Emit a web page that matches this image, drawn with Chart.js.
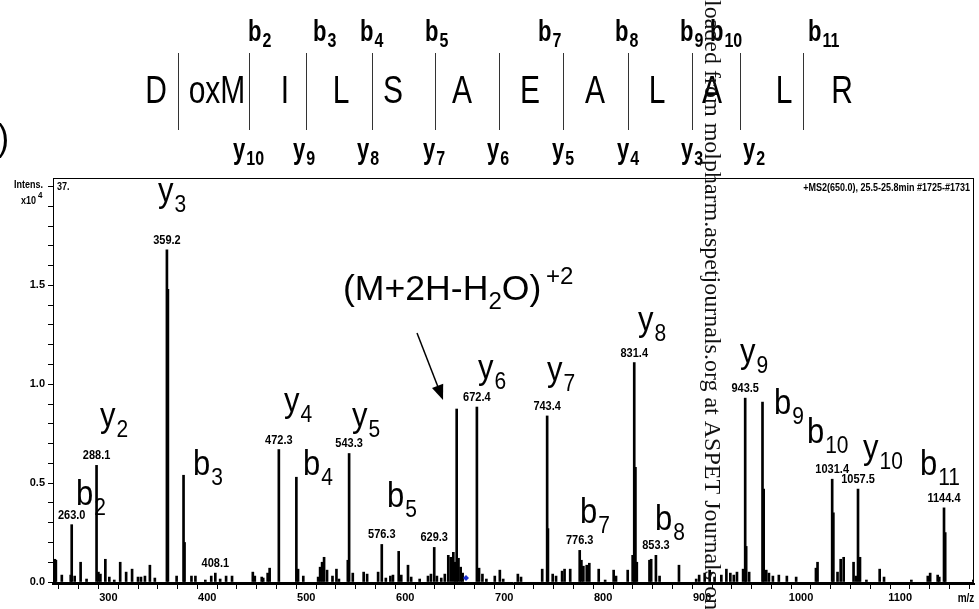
<!DOCTYPE html>
<html>
<head>
<meta charset="utf-8">
<script src="https://cdn.jsdelivr.net/npm/chart.js@4.4.0/dist/chart.umd.min.js"></script>
<style>
    html, body { margin: 0; padding: 0; background: #fff; overflow: hidden; }
    #wrap { position: relative; width: 979px; height: 609px; }
</style>
</head>
<body>
<div id="wrap"><canvas id="spectrum" width="979" height="609"></canvas></div>
<script>
// Peak list: m/z and intensity (x10^4)
const peakMz = [
    245, 246, 247, 253, 262, 263.0, 266, 272, 278, 288.1, 290, 292, 297, 301, 306, 312, 318, 324, 330, 333, 337, 342, 347,
    359.2, 360.2, 369, 376, 377, 384, 388, 398, 404, 408.1, 413, 419, 425, 446, 448, 455, 456.5, 461, 463,
    472.3, 490, 491.7, 497, 512, 514, 516, 518, 521, 526.5, 530.5, 533, 542, 543.3, 547, 558, 561.5, 572.6,
    576.3, 580.4, 585, 587.6, 593.4, 596, 602.8, 606, 614.6, 623, 626, 629.3, 632, 636.4, 640, 643.5, 646, 648.6,
    650.5, 652, 653.8, 656, 658, 672.4, 674.6, 678, 682, 690.5, 695.6, 699, 713.8, 717, 738.4, 743.4, 744.2,
    749, 752.4, 758.5, 761, 766.7, 776.3, 778, 780, 783.4, 786, 795.5, 802, 810.6, 813, 824.8, 829.8, 831.4, 832.6,
    834, 846.8, 848.5, 853.3, 857, 876.6, 894, 897, 902.6, 907.6, 912.6, 919.4, 924.5, 928.5, 932, 935.2, 941.4,
    943.5, 944.5, 947.5, 961, 962.2, 964.8, 967.5, 971.5, 977.5, 985.6, 995, 1015, 1016.6, 1031.4, 1032.6, 1036.8,
    1040, 1043, 1053, 1055.5, 1057.5, 1059.5, 1066, 1079.4, 1083.8, 1111.4, 1128, 1130.4, 1138, 1139.6, 1144.4,
    1145.6, 1174
];
const peakIntensity = [
    0.11, 0.115, 0.11, 0.035, 0.035, 0.29, 0.03, 0.10, 0.015, 0.59, 0.05, 0.04, 0.115, 0.025, 0.01, 0.10, 0.05, 0.065, 0.025, 0.025, 0.03, 0.085, 0.02,
    1.68, 1.48, 0.03, 0.54, 0.2, 0.03, 0.03, 0.01, 0.03, 0.045, 0.015, 0.03, 0.03, 0.05, 0.03, 0.025, 0.02, 0.045, 0.07,
    0.67, 0.53, 0.065, 0.03, 0.025, 0.075, 0.10, 0.125, 0.06, 0.03, 0.065, 0.015, 0.11, 0.65, 0.045, 0.05, 0.04, 0.05,
    0.19, 0.02, 0.03, 0.035, 0.155, 0.035, 0.085, 0.025, 0.015, 0.03, 0.04, 0.175, 0.03, 0.02, 0.04, 0.135, 0.125, 0.15,
    0.10, 0.875, 0.12, 0.075, 0.045, 0.885, 0.07, 0.04, 0.015, 0.03, 0.06, 0.015, 0.04, 0.025, 0.065, 0.84, 0.27,
    0.04, 0.03, 0.055, 0.065, 0.065, 0.16, 0.11, 0.08, 0.085, 0.095, 0.065, 0.01, 0.06, 0.03, 0.06, 0.135, 1.11, 0.58,
    0.10, 0.11, 0.115, 0.135, 0.03, 0.085, 0.015, 0.035, 0.045, 0.06, 0.025, 0.035, 0.065, 0.045, 0.035, 0.05, 0.065,
    0.93, 0.18, 0.05, 0.91, 0.47, 0.06, 0.045, 0.03, 0.035, 0.03, 0.025, 0.07, 0.10, 0.52, 0.35, 0.05,
    0.115, 0.125, 0.10, 0.03, 0.47, 0.125, 0.01, 0.065, 0.025, 0.01, 0.03, 0.045, 0.035, 0.025, 0.375,
    0.25, 0.01
];

// Precursor marker (small blue diamond on the baseline)
const precursorMz = [661.4];
const precursorIntensity = [0.02];

// m/z values printed above peaks
const labelledPeaks = ['263.0', '288.1', '359.2', '408.1', '472.3', '543.3', '576.3', '629.3', '672.4',
    '743.4', '776.3', '831.4', '853.3', '943.5', '1031.4', '1057.5', '1144.4'];

// Fragment ion assignments on the spectrum
const ionLabels = ['y3', 'y2', 'b2', 'b3', 'y4', 'b4', 'y5', 'b5', 'y6', 'y7', 'b7', 'y8', 'b8', 'y9', 'b9', 'b10', 'y10', 'b11'];
// anchor of each ion label (m/z, intensity) - left edge / baseline
const ionAnchorMz = [350.2, 291.6, 267.3, 385.6, 477.5, 496.7, 546.2, 581.6, 673.5, 743.2, 776.6, 835.2, 852.4, 938.3, 972.6, 1005.9, 1062.5, 1120.1];
const ionAnchorInt = [1.922, 0.784, 0.389, 0.541, 0.860, 0.541, 0.784, 0.379, 1.027, 1.017, 0.298, 1.270, 0.263, 1.108, 0.850, 0.703, 0.622, 0.541];

// Peptide sequence header
const residues = ['D', 'oxM', 'I', 'L', 'S', 'A', 'E', 'A', 'L', 'A', 'L', 'R'];
const bIons = ['b2', 'b3', 'b4', 'b5', 'b7', 'b8', 'b9', 'b10', 'b11'];
const yIons = ['y10', 'y9', 'y8', 'y7', 'y6', 'y5', 'y4', 'y3', 'y2'];

// Axis ticks
const xTickLabels = [300, 400, 500, 600, 700, 800, 900, 1000, 1100];
const yTickLabels = ['0.0', '0.5', '1.0', '1.5'];

// Layout of the header drawing (pixels)
const residueX = [156, 217, 285, 341, 393, 462, 530, 595, 657, 712, 784, 842];
const separatorX = [178, 249, 306, 372, 435, 499, 563, 628, 692, 740, 803];
const bIonX = [248, 313, 360, 425, 538, 615, 680, 710, 808];
const yIonX = [233, 293, 357, 423, 487, 552, 617, 681, 743];

const X_MIN = 244.1, X_MAX = 1174.7;
const Y_MIN = -0.0101, Y_MAX = 2.0435;
const SANS = '"Liberation Sans", Arial, sans-serif';

Chart.defaults.font.family = SANS;
Chart.defaults.color = '#000';

function stretched(ctx, text, px, py, font, sy, align) {
    ctx.save();
    ctx.translate(px, py);
    ctx.scale(1, sy);
    ctx.font = font;
    ctx.textAlign = align || 'left';
    ctx.textBaseline = 'alphabetic';
    ctx.fillText(text, 0, 0);
    ctx.restore();
}

function ionText(ctx, label, px, py, size, subSize, subDrop, sy, weight) {
    const w = weight ? weight + ' ' : '';
    const letter = label[0];
    const sub = label.slice(1);
    ctx.font = `${w}${size}px ${SANS}`;
    const lw = ctx.measureText(letter).width;
    stretched(ctx, letter, px, py, `${w}${size}px ${SANS}`, sy);
    stretched(ctx, sub, px + lw + 1, py + subDrop, `${w}${subSize}px ${SANS}`, sy);
}

// (M+2H-H2O)+2 caption, fitted to a given width
function precursorCaption(ctx, left, base, width) {
    const big = `31px ${SANS}`, small = `21px ${SANS}`;
    const parts = [
        ['(M+2H-H', big, 0, 0],
        ['2', small, 8, 0],
        ['O)', big, 0, 4],
        ['+2', small, -14, 0]
    ];
    let total = 0;
    parts.forEach(p => { ctx.font = p[1]; total += ctx.measureText(p[0]).width + p[3]; });
    ctx.save();
    ctx.translate(left, base);
    ctx.scale(width / total, 1.12);
    let cx = 0;
    parts.forEach(p => {
        ctx.font = p[1];
        ctx.fillText(p[0], cx, p[2]);
        cx += ctx.measureText(p[0]).width + p[3];
    });
    ctx.restore();
}

const decorPlugin = {
    id: 'decor',
    afterDraw(chart) {
        const { ctx, chartArea: a, scales: { x, y } } = chart;
        ctx.save();
        ctx.fillStyle = '#000';
        ctx.strokeStyle = '#000';

        // plot frame
        ctx.lineWidth = 1;
        ctx.strokeRect(a.left + 0.5, a.top + 0.5, a.right - a.left - 1, a.bottom - a.top - 1);
        // baseline at zero intensity
        const y0 = Math.round(y.getPixelForValue(0)) + 0.5;
        ctx.beginPath();
        ctx.moveTo(a.left, y0);
        ctx.lineTo(a.right, y0);
        ctx.stroke();

        // m/z values above peaks
        labelledPeaks.forEach(txt => {
            const mz = parseFloat(txt);
            const i = peakMz.indexOf(mz);
            const px = x.getPixelForValue(mz);
            const py = y.getPixelForValue(peakIntensity[i]) - 6;
            stretched(ctx, txt, px, py, `bold 11px ${SANS}`, 1.1, 'center');
        });

        // fragment ion assignments
        ionLabels.forEach((lab, i) => {
            const px = x.getPixelForValue(ionAnchorMz[i]);
            const py = y.getPixelForValue(ionAnchorInt[i]);
            ionText(ctx, lab, px, py, 31, 21, 10, 1.15);
        });

        // (M+2H-H2O)+2 with arrow
        const tx = x.getPixelForValue(537.1);
        const ty = y.getPixelForValue(1.426);
        const tRight = x.getPixelForValue(770.0);
        precursorCaption(ctx, tx, ty, tRight - tx);

        const ax0 = x.getPixelForValue(611.9), ay0 = y.getPixelForValue(1.259);
        const ax1 = x.getPixelForValue(638.2), ay1 = y.getPixelForValue(0.921);
        const ang = Math.atan2(ay1 - ay0, ax1 - ax0);
        ctx.lineWidth = 1.5;
        ctx.beginPath();
        ctx.moveTo(ax0, ay0);
        ctx.lineTo(ax1 - 12 * Math.cos(ang), ay1 - 12 * Math.sin(ang));
        ctx.stroke();
        ctx.beginPath();
        ctx.moveTo(ax1, ay1);
        ctx.lineTo(ax1 - 15 * Math.cos(ang) + 6 * Math.sin(ang), ay1 - 15 * Math.sin(ang) - 6 * Math.cos(ang));
        ctx.lineTo(ax1 - 15 * Math.cos(ang) - 6 * Math.sin(ang), ay1 - 15 * Math.sin(ang) + 6 * Math.cos(ang));
        ctx.closePath();
        ctx.fill();

        // axis captions
        stretched(ctx, 'Intens.', 14, 188, `bold 9px ${SANS}`, 1.2);
        stretched(ctx, 'x10', 21, 204, `bold 9px ${SANS}`, 1.2);
        stretched(ctx, '4', 38, 198, `bold 8px ${SANS}`, 1.2);
        stretched(ctx, '37.', a.left + 4, a.top + 12, `bold 9px ${SANS}`, 1.2);
        ctx.save();
        ctx.font = `bold 9px ${SANS}`;
        ctx.textAlign = 'right';
        ctx.translate(0, a.top + 13);
        ctx.scale(1, 1.2);
        ctx.fillText('+MS2(650.0), 25.5-25.8min #1725-#1731', a.right - 4, 0, 190);
        ctx.restore();
        stretched(ctx, 'm/z', a.right - 8, 602, `bold 10px ${SANS}`, 1.2, 'center');

        // peptide sequence header
        residues.forEach((r, i) => {
            stretched(ctx, r, residueX[i], 103, `30px ${SANS}`, 1.3, 'center');
        });
        ctx.strokeStyle = '#333';
        ctx.lineWidth = 1;
        separatorX.forEach(sx => {
            ctx.beginPath();
            ctx.moveTo(sx + 0.5, 53);
            ctx.lineTo(sx + 0.5, 130);
            ctx.stroke();
        });
        bIons.forEach((lab, i) => ionText(ctx, lab, bIonX[i], 41, 22, 16, 6, 1.3, 'bold'));
        yIons.forEach((lab, i) => ionText(ctx, lab, yIonX[i], 159, 22, 16, 6, 1.3, 'bold'));

        // panel letter (cut off at the left edge)
        stretched(ctx, 'B)', 9, 150, `34px ${SANS}`, 1.1, 'right');

        // vertical download watermark
        ctx.save();
        ctx.fillStyle = '#111';
        const wm = 'Downloaded from molpharm.aspetjournals.org at ASPET Journals on';
        ctx.font = '24px "Liberation Serif", "Times New Roman", serif';
        const off = ctx.measureText('Down').width;
        ctx.translate(705, -off);
        ctx.rotate(Math.PI / 2);
        ctx.textBaseline = 'alphabetic';
        ctx.fillText(wm, 0, 0);
        ctx.restore();

        ctx.restore();
    }
};

const ctx = document.getElementById('spectrum').getContext('2d');
new Chart(ctx, {
    type: 'bar',
    data: {
        datasets: [
            {
                type: 'scatter',
                data: precursorMz.map((m, i) => ({ x: m, y: precursorIntensity[i] })),
                pointStyle: 'rectRot',
                radius: 3,
                backgroundColor: '#1a2fd0',
                borderColor: '#1a2fd0',
                borderWidth: 0
            },
            {
                data: peakMz.map((m, i) => ({ x: m, y: peakIntensity[i] })),
                backgroundColor: '#000',
                borderWidth: 0,
                barThickness: 2,
                grouped: false
            }
        ]
    },
    options: {
        responsive: false,
        animation: false,
        devicePixelRatio: 1,
        layout: { padding: { top: 178, right: 5, left: 0, bottom: 0 } },
        plugins: {
            legend: { display: false },
            tooltip: { enabled: false }
        },
        scales: {
            x: {
                type: 'linear',
                min: X_MIN,
                max: X_MAX,
                offset: false,
                grid: { drawOnChartArea: false, tickLength: 5, color: '#000' },
                border: { display: true, color: '#000', width: 2 },
                ticks: {
                    stepSize: 20,
                    autoSkip: false,
                    maxRotation: 0,
                    includeBounds: false,
                    padding: 2,
                    color: '#000',
                    font: { size: 11, weight: 'bold' },
                    callback: v => xTickLabels.includes(Math.round(v)) ? String(Math.round(v)) : ''
                },
                afterFit: s => { s.height = 25; }
            },
            y: {
                min: Y_MIN,
                max: Y_MAX,
                grid: { drawOnChartArea: false, tickLength: 5, color: '#000' },
                border: { display: true, color: '#000', width: 1 },
                ticks: {
                    stepSize: 0.1,
                    autoSkip: false,
                    includeBounds: false,
                    padding: 3,
                    color: '#000',
                    font: { size: 11, weight: 'bold' },
                    callback: v => {
                        const k = Math.round(v * 10);
                        return (k % 5 === 0 && k / 5 < yTickLabels.length) ? yTickLabels[k / 5] : '';
                    }
                },
                afterFit: s => { s.width = 53; }
            }
        }
    },
    plugins: [decorPlugin]
});
</script>
</body>
</html>
